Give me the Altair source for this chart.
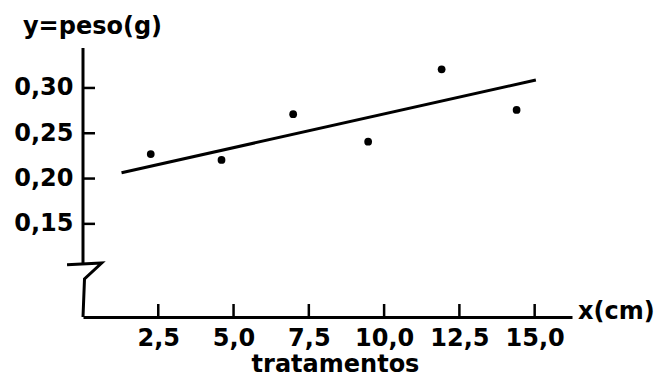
import altair as alt
import pandas as pd

# observed points (tratamentos x, peso y)
x_vals = [2.25, 4.6, 6.98, 9.47, 11.91, 14.4]
y_vals = [0.227, 0.2205, 0.271, 0.2407, 0.3206, 0.2757]
# fitted regression line end points
fit_x = [1.28, 15.04]
fit_y = [0.2065, 0.3088]
# tick values
x_ticks = [2.5, 5.0, 7.5, 10.0, 12.5, 15.0]
y_ticks = [0.15, 0.20, 0.25, 0.30]
# broken y-axis path (two pieces)
axis_x = [0, 0, -0.53, 0.62, 0.05, 0]
axis_y = [0.3441, 0.1057, 0.1048, 0.1068, 0.0892, 0.0472]
axis_seg = [0, 0, 1, 1, 1, 1]

FONT = "DejaVu Sans"
W, H = 489, 269

xs = alt.Scale(domain=[0, 16.24], nice=False, zero=False)
ys = alt.Scale(domain=[0.0472, 0.3441], nice=False, zero=False)

pts = pd.DataFrame({"x": x_vals, "y": y_vals})
fit = pd.DataFrame({"x": fit_x, "y": fit_y})
xt = pd.DataFrame({"v": x_ticks})
yt = pd.DataFrame({"v": y_ticks})
ax = pd.DataFrame({"x": axis_x, "y": axis_y, "seg": axis_seg, "i": list(range(len(axis_x)))})

x_axis = alt.Axis(
    values=x_ticks, labelExpr="replace(format(datum.value,'.1f'),'.',',')",
    ticks=False, tickSize=0, grid=False, domainColor="black", domainWidth=3,
    labelFont=FONT, labelFontSize=24, labelFontWeight="bold", labelColor="black",
    labelPadding=9, labelOverlap=False, labelFlush=False,
    title="tratamentos", titleX=252, titleY=54, titleAlign="center",
    titleBaseline="alphabetic", titleFont=FONT, titleFontSize=24,
    titleFontWeight="bold", titleColor="black",
)
y_axis = alt.Axis(
    values=y_ticks, labelExpr="replace(format(datum.value,'.2f'),'.',',')",
    ticks=False, tickSize=0, grid=False, domain=False,
    labelFont=FONT, labelFontSize=24, labelFontWeight="bold", labelColor="black",
    labelPadding=10, labelOverlap=False, labelFlush=False,
    title="y=peso(g)", titleAngle=0, titleX=9, titleY=-15, titleAlign="center",
    titleBaseline="alphabetic", titleFont=FONT, titleFontSize=24,
    titleFontWeight="bold", titleColor="black",
)

points = alt.Chart(pts).mark_circle(size=60, color="black", opacity=1).encode(
    x=alt.X("x:Q", scale=xs, axis=x_axis),
    y=alt.Y("y:Q", scale=ys, axis=y_axis),
)
line = alt.Chart(fit).mark_line(color="black", strokeWidth=3).encode(
    x=alt.X("x:Q", scale=xs),
    y=alt.Y("y:Q", scale=ys),
)
yaxis_line = alt.Chart(ax).mark_line(color="black", strokeWidth=3, strokeJoin="miter").encode(
    x=alt.X("x:Q", scale=xs),
    y=alt.Y("y:Q", scale=ys),
    detail="seg:N", order="i:Q",
)
xticks = alt.Chart(xt).mark_rule(color="black", strokeWidth=2.5).encode(
    x=alt.X("v:Q", scale=xs),
    y=alt.value(H),
    y2=alt.value(H - 13),
)
yticks = alt.Chart(yt).mark_rule(color="black", strokeWidth=2.5).encode(
    y=alt.Y("v:Q", scale=ys),
    x=alt.value(0),
    x2=alt.value(12),
)
xlab = alt.Chart(pd.DataFrame({"t": ["x(cm)"]})).mark_text(
    align="left", baseline="alphabetic", font=FONT, fontSize=24,
    fontWeight="bold", color="black",
).encode(text="t:N", x=alt.value(W + 6), y=alt.value(H + 2))

chart = alt.layer(points, yaxis_line, xticks, yticks, line, xlab).properties(
    width=W, height=H,
    autosize=alt.AutoSizeParams(type="none"),
    padding={"left": 75, "top": 40, "right": 83, "bottom": 61},
    background="white",
).configure_view(stroke=None)

chart.save("out.html", embed_options={"renderer": "svg", "actions": False})
